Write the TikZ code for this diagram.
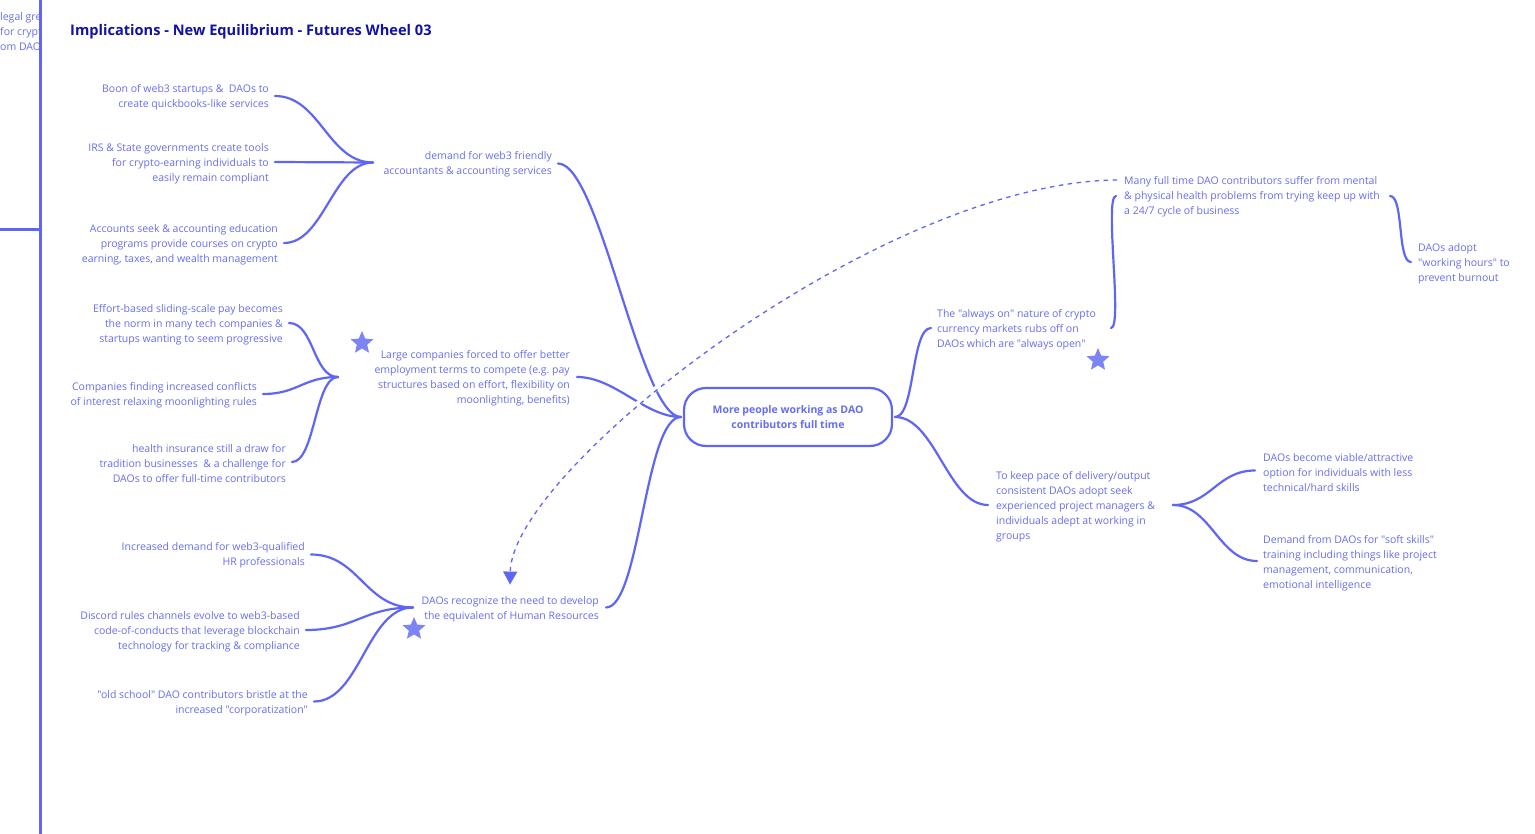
\documentclass[tikz,border=0pt]{standalone}
\usepackage{fontspec}
\setmainfont{Open Sans}
\newfontfamily\osans{Open Sans}
\usetikzlibrary{shapes.geometric,arrows.meta,calc}
\definecolor{txtc}{RGB}{102,110,240}
\definecolor{linec}{RGB}{95,102,245}
\definecolor{titlec}{RGB}{18,18,165}
\definecolor{starc}{RGB}{125,133,245}
\frenchspacing
\begin{document}
\begin{tikzpicture}[x=1pt,y=-1pt,
  txt/.style={font=\osans\fontsize{10.5}{15}\selectfont\frenchspacing, text=txtc, inner sep=0pt, yshift=-2pt},
  rtxt/.style={txt, align=right, anchor=east},
  ltxt/.style={txt, align=left, anchor=west},
  conn/.style={draw=linec, line width=2.2pt, line cap=round},
  starnode/.style={star, star points=5, star point ratio=2.2, minimum size=24pt, inner sep=0pt, fill=starc, draw=none},
  centerbox/.style={draw=linec, line width=2.2pt, rounded corners=22pt, minimum width=208pt, minimum height=58pt, inner sep=0pt,
    font=\osans\bfseries\fontsize{10.5}{15}\selectfont, text=txtc, align=center},
  frame/.style={draw=linec, line width=3pt}
]
\useasboundingbox[fill=white] (0,0) rectangle (1535,834);

% frame lines and cut text
\draw[frame] (40,0) -- (40,834);
\draw[frame] (0,230) -- (40,230);
\begin{scope}
  \clip (0,0) rectangle (38.5,80);
  \node[ltxt] (cut) at (0,30) {legal grey\\for crypto\\om DAOs};
\end{scope}

% title
\node[anchor=west, inner sep=0pt, yshift=-2pt, font=\osans\bfseries\fontsize{14.6}{17}\selectfont, text=titlec] (title) at (70,30) {Implications - New Equilibrium - Futures Wheel 03};

% center
\node[centerbox] (c) at (788,417) {More people working as DAO\\contributors full time};

% first ring
\node[rtxt] (n1) at (552,162.5) {demand for web3 friendly\\accountants \& accounting services};
\node[rtxt] (n2) at (570,376.5) {Large companies forced to offer better\\employment terms to compete (e.g. pay\\structures based on effort, flexibility on\\moonlighting, benefits)};
\node[rtxt] (n3) at (599,607.5) {DAOs recognize the need to develop\\the equivalent of Human Resources};
\node[ltxt] (n4) at (937,328) {The "always on" nature of crypto\\currency markets rubs off on\\DAOs which are "always open"};
\node[ltxt] (n5) at (996,505) {To keep pace of delivery/output\\consistent DAOs adopt seek\\experienced project managers \&\\individuals adept at working in\\groups};

% outer ring
\node[rtxt] (n10) at (269,95.5) {Boon of web3 startups \&~~DAOs to\\create quickbooks-like services};
\node[rtxt] (n11) at (269,162) {IRS \& State governments create tools\\for crypto-earning individuals to\\easily remain compliant};
\node[rtxt] (n12) at (278,243) {Accounts seek \& accounting education\\programs provide courses on crypto\\earning, taxes, and wealth management};
\node[rtxt] (n13) at (283,323) {Effort-based sliding-scale pay becomes\\the norm in many tech companies \&\\startups wanting to seem progressive};
\node[rtxt] (n14) at (257,393.5) {Companies finding increased conflicts\\of interest relaxing moonlighting rules};
\node[rtxt] (n15) at (286,462) {health insurance still a draw for\\tradition businesses~~\& a challenge for\\DAOs to offer full-time contributors};
\node[rtxt] (n16) at (305,553.5) {Increased demand for web3-qualified\\HR professionals};
\node[rtxt] (n17) at (300,630) {Discord rules channels evolve to web3-based\\code-of-conducts that leverage blockchain\\technology for tracking \& compliance};
\node[rtxt] (n18) at (308,701.5) {"old school" DAO contributors bristle at the\\increased "corporatization"};
\node[ltxt] (n6) at (1124,195) {Many full time DAO contributors suffer from mental\\\& physical health problems from trying keep up with\\a 24/7 cycle of business};
\node[ltxt] (n7) at (1418,262) {DAOs adopt\\"working hours" to\\prevent burnout};
\node[ltxt] (n8) at (1263,470.5) {DAOs become viable/attractive\\option for individuals with less\\technical/hard skills};
\node[ltxt] (n9) at (1263,561) {Demand from DAOs for "soft skills"\\training including things like project\\management, communication,\\emotional intelligence};

% stars
\node[starnode] (s1) at (362,343) {};
\node[starnode] (s2) at (1098,360) {};
\node[starnode] (s3) at (414,629) {};

% junction coordinates (text nodes are shifted 2px down, compensate)
\coordinate (j1) at ($(n1.east)+(-179,-2)$);
\coordinate (o1) at ($(n1.east)+(6,-1)$);
\coordinate (j2) at ($(n2.east)+(-232,-1.5)$);
\coordinate (o2) at ($(n2.east)+(7,-1.5)$);
\coordinate (j3) at ($(n3.east)+(-186,-2)$);
\coordinate (o3) at ($(n3.east)+(7,-2)$);
\coordinate (cw) at ($(c.west)+(-2,0)$);
\coordinate (ce) at ($(c.east)+(2,0)$);
\coordinate (i4) at ($(n4.west)+(-6,-2)$);
\coordinate (o4) at ($(n4.west)+(174,-2)$);
\coordinate (i5) at ($(n5.west)+(-8,-2)$);
\coordinate (o5) at ($(n5.west)+(177,-2)$);
\coordinate (i6) at ($(n6.west)+(-8,-1)$);
\coordinate (o6) at ($(n6.west)+(266,-1)$);
\coordinate (d6) at ($(n6.west)+(-7,-17)$);
\coordinate (i7) at ($(n7.west)+(-7,-2)$);
\coordinate (i8) at ($(n8.west)+(-8,-2)$);
\coordinate (i9) at ($(n9.west)+(-6,-2)$);
\coordinate (tip) at ($(n3.north east)+(-89,-12)$);

% connectors left
\draw[conn] ($(n10.east)+(6,-1.5)$) .. controls +(45,0) and +(-45,0) .. (j1);
\draw[conn] ($(n11.east)+(6,-2)$) -- (j1);
\draw[conn] ($(n12.east)+(6,-2)$) .. controls +(40,0) and +(-40,0) .. (j1);
\draw[conn] ($(n13.east)+(6,-2)$) .. controls +(25,0) and +(-25,0) .. (j2);
\draw[conn] ($(n14.east)+(6,-1.5)$) .. controls +(35,0) and +(-35,0) .. (j2);
\draw[conn] ($(n15.east)+(6,-2)$) .. controls +(23,0) and +(-23,0) .. (j2);
\draw[conn] ($(n16.east)+(6,-1)$) .. controls +(48,0) and +(-48,0) .. (j3);
\draw[conn] ($(n17.east)+(6,-2)$) .. controls +(50,0) and +(-50,0) .. (j3);
\draw[conn] ($(n18.east)+(6,-2)$) .. controls +(46,0) and +(-46,0) .. (j3);
\draw[conn] (o1) .. controls +(42,0) and +(-41,0) .. (cw);
\draw[conn] (o2) .. controls +(38,0) and +(-36,0) .. (cw);
\draw[conn] (o3) .. controls +(34,0) and +(-36,0) .. (cw);
% connectors right
\draw[conn] (ce) .. controls +(20,0) and +(-20,0) .. (i4);
\draw[conn] (ce) .. controls +(40,0) and +(-40,0) .. (i5);
\draw[conn] (o4) .. controls +(12,0) and +(-12,0) .. (i6);
\draw[conn] (o6) .. controls +(14,0) and +(-14,0) .. (i7);
\draw[conn] (o5) .. controls +(38,0) and +(-38,0) .. (i8);
\draw[conn] (o5) .. controls +(38,0) and +(-38,0) .. (i9);

% dashed arrow
\draw[white, line width=5pt] ($(d6)+(-12,0)$) .. controls (880,182) and (512,470) .. ($(tip)+(0,-20)$);
\draw[linec, line width=1.3pt, dash pattern=on 4.5pt off 4.5pt, -{Triangle[width=14pt,length=13pt]}] (d6) .. controls +(-237,2) and +(2,-115) .. (tip);
\end{tikzpicture}
\end{document}
